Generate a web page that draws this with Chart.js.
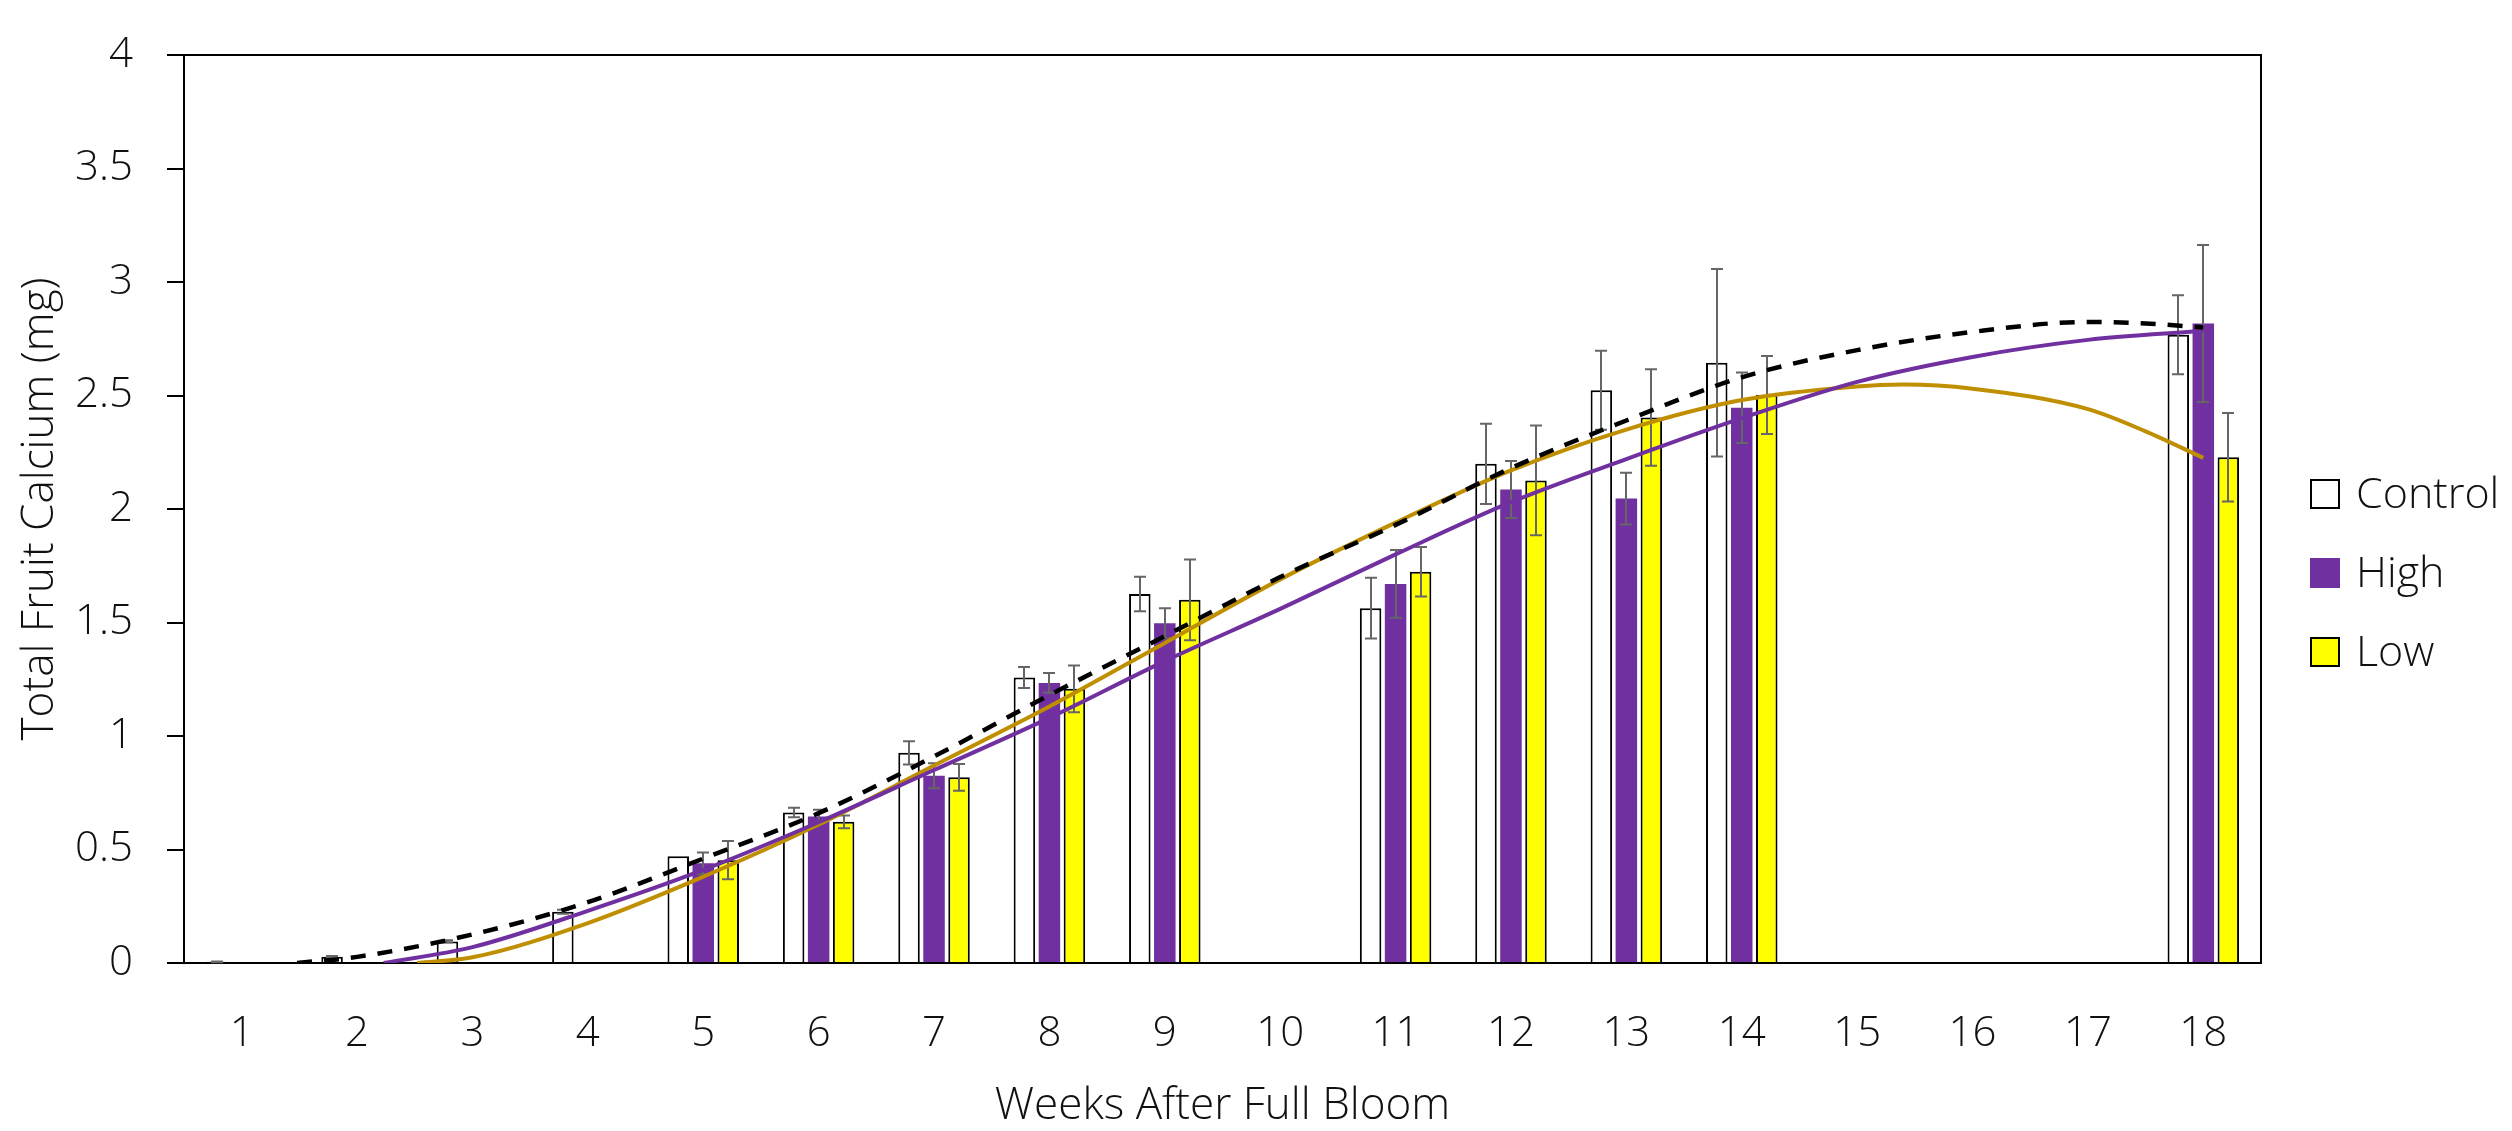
<!DOCTYPE html>
<html>
<head>
<meta charset="utf-8">
<title>Total Fruit Calcium</title>
<script src="https://cdn.jsdelivr.net/npm/chart.js@4.4.1/dist/chart.umd.min.js"></script>
<style>
  html, body { margin: 0; padding: 0; background: #ffffff; }
  #wrap { width: 2512px; height: 1131px; }
</style>
</head>
<body>
<div id="wrap"><canvas id="calcium" width="2512" height="1131"></canvas></div>
<script>
// Weeks after full bloom (sampling weeks and their tick labels)
const weekNums = [1, 2, 3, 4, 5, 6, 7, 8, 9, 10, 11, 12, 13, 14, 15, 16, 17, 18];
const weeks = ['1','2','3','4','5','6','7','8','9','10','11','12','13','14','15','16','17','18'];

// Mean total fruit calcium (mg) per treatment; null = not sampled
const control    = [0.005, 0.027, 0.095, 0.226, 0.470, 0.663, 0.926, 1.258, 1.626, null, 1.563, 2.199, 2.523, 2.644, null, null, null, 2.768];
const controlErr = [0.002, 0.004, 0.005, 0.009, 0,     0.021, 0.051, 0.046, 0.076, null, 0.134, 0.177, 0.174, 0.413, null, null, null, 0.174];
const high       = [null, null, null, null, 0.439, 0.645, 0.825, 1.234, 1.497, null, 1.670, 2.086, 2.046, 2.446, null, null, null, 2.817];
const highErr    = [null, null, null, null, 0.048, 0.030, 0.055, 0.043, 0.066, null, 0.149, 0.126, 0.114, 0.155, null, null, null, 0.346];
const low        = [null, null, null, null, 0.453, 0.622, 0.818, 1.208, 1.600, null, 1.724, 2.126, 2.403, 2.502, null, null, null, 2.228];
const lowErr     = [null, null, null, null, 0.084, 0.028, 0.059, 0.103, 0.178, null, 0.109, 0.242, 0.213, 0.172, null, null, null, 0.195];

// Polynomial trend curves, sampled as (week, mg)
const controlTrendWeeks = [1.48, 2, 3, 4, 5, 6, 7, 8, 9, 10, 11, 12, 13, 14, 15, 16, 17, 17.5, 18];
const controlTrendMg    = [0, 0.027, 0.126, 0.268, 0.46, 0.66, 0.91, 1.18, 1.44, 1.70, 1.93, 2.18, 2.39, 2.58, 2.70, 2.78, 2.824, 2.817, 2.80];
const highTrendWeeks    = [2.23, 3, 4, 5, 6, 7, 8, 9, 10, 11, 12, 13, 14, 15, 16, 17, 18];
const highTrendMg       = [0, 0.07, 0.23, 0.41, 0.62, 0.85, 1.08, 1.33, 1.56, 1.80, 2.03, 2.22, 2.40, 2.56, 2.67, 2.745, 2.785];
const lowTrendWeeks     = [2.52, 3, 4, 5, 6, 7, 8, 9, 10, 11, 12, 13, 14, 15, 15.4, 16, 17, 17.5, 18];
const lowTrendMg        = [0, 0.025, 0.176, 0.38, 0.61, 0.87, 1.13, 1.41, 1.69, 1.94, 2.17, 2.35, 2.48, 2.54, 2.548, 2.53, 2.44, 2.342, 2.225];

const toPoints = (xs, ys) => xs.map((x, i) => ({ x: x, y: ys[i] }));

const FONT = '"Open Sans", "Noto Sans", sans-serif';
const INK = '#111111';

// Vertical error bars drawn right after each bar dataset
const errorBars = {
  id: 'errorBars',
  afterDatasetDraw(chart, args) {
    const ds = chart.data.datasets[args.index];
    if (!ds.errors) return;
    const yScale = chart.scales.y;
    const ctx = chart.ctx;
    ctx.save();
    ctx.strokeStyle = '#666666';
    ctx.lineWidth = 2;
    args.meta.data.forEach((bar, i) => {
      const v = ds.data[i] ? ds.data[i].y : null;
      const e = ds.errors[i];
      if (v == null || !e) return;
      const yt = yScale.getPixelForValue(v + e);
      const yb = yScale.getPixelForValue(Math.max(0, v - e));
      const x = Math.round(bar.x);
      ctx.beginPath();
      ctx.moveTo(x, yt); ctx.lineTo(x, yb);
      ctx.moveTo(x - 6, yt); ctx.lineTo(x + 6, yt);
      ctx.moveTo(x - 6, yb); ctx.lineTo(x + 6, yb);
      ctx.stroke();
    });
    ctx.restore();
  }
};

// Top and right edges of the plot box
const plotFrame = {
  id: 'plotFrame',
  afterDatasetsDraw(chart) {
    const { ctx, chartArea: a } = chart;
    ctx.save();
    ctx.strokeStyle = '#000000';
    ctx.lineWidth = 2;
    ctx.beginPath();
    ctx.moveTo(a.left, a.top);
    ctx.lineTo(a.right, a.top);
    ctx.lineTo(a.right, a.bottom);
    ctx.stroke();
    ctx.restore();
  }
};

// Treatment key to the right of the plot
const sideLegend = {
  id: 'sideLegend',
  afterDraw(chart, args, opts) {
    const ctx = chart.ctx;
    const items = chart.data.datasets.filter(d => d.type !== 'line');
    ctx.save();
    ctx.font = '300 ' + opts.fontSize + 'px ' + FONT;
    ctx.textBaseline = 'middle';
    ctx.textAlign = 'left';
    items.forEach((d, i) => {
      const cy = opts.top + i * opts.step;
      const bx = opts.left, by = cy - opts.box / 2;
      ctx.fillStyle = d.backgroundColor;
      ctx.fillRect(bx, by, opts.box, opts.box);
      if (d.borderWidth) {
        ctx.strokeStyle = d.borderColor;
        ctx.lineWidth = 2;
        ctx.strokeRect(bx + 1, by + 1, opts.box - 2, opts.box - 2);
      }
      ctx.fillStyle = INK;
      ctx.fillText(d.label, bx + opts.box + 16, cy + 2);
    });
    ctx.restore();
  }
};

const barCommon = { type: 'bar', order: 1, categoryPercentage: 0.65, barPercentage: 0.86, borderSkipped: 'start' };
const lineCommon = { type: 'line', order: 0, pointRadius: 0, fill: false, cubicInterpolationMode: 'monotone' };

new Chart(document.getElementById('calcium'), {
  type: 'bar',
  data: {
    datasets: [
      Object.assign({}, barCommon, { label: 'Control', data: toPoints(weekNums, control), errors: controlErr, backgroundColor: '#ffffff', borderColor: '#000000', borderWidth: 2 }),
      Object.assign({}, barCommon, { label: 'High', data: toPoints(weekNums, high), errors: highErr, backgroundColor: '#7030A0', borderWidth: 0 }),
      Object.assign({}, barCommon, { label: 'Low', data: toPoints(weekNums, low), errors: lowErr, backgroundColor: '#FFFF00', borderColor: '#000000', borderWidth: 2 }),
      Object.assign({}, lineCommon, { label: 'Control trend', data: toPoints(controlTrendWeeks, controlTrendMg), borderColor: '#000000', borderWidth: 4.5, borderDash: [15, 12] }),
      Object.assign({}, lineCommon, { label: 'High trend', data: toPoints(highTrendWeeks, highTrendMg), borderColor: '#7030A0', borderWidth: 4 }),
      Object.assign({}, lineCommon, { label: 'Low trend', data: toPoints(lowTrendWeeks, lowTrendMg), borderColor: '#BF8F00', borderWidth: 4 })
    ]
  },
  options: {
    responsive: false,
    animation: false,
    devicePixelRatio: 1,
    layout: { padding: { left: 0, top: 24, right: 251, bottom: 0 } },
    plugins: {
      legend: { display: false },
      tooltip: { enabled: false },
      sideLegend: { left: 2310, top: 494, step: 79, box: 30, fontSize: 43 }
    },
    scales: {
      x: {
        type: 'linear',
        offset: false,
        min: 0.5,
        max: 18.5,
        grid: { display: false, drawTicks: false, offset: false },
        border: { display: true, color: '#000000', width: 2 },
        afterBuildTicks(scale) { scale.ticks = weekNums.map(v => ({ value: v })); },
        ticks: {
          color: INK,
          padding: 50,
          maxRotation: 0,
          autoSkip: false,
          font: { family: FONT, size: 42, weight: '300', lineHeight: 1 },
          callback: (value, index) => weeks[index]
        },
        title: { display: true, text: 'Weeks After Full Bloom', color: INK, padding: { top: 0, bottom: 0 }, font: { family: FONT, size: 44, weight: '300', lineHeight: 1.1 } },
        afterFit(scale) { scale.height = 168; }
      },
      y: {
        min: 0,
        max: 4,
        grid: { display: true, drawOnChartArea: false, drawTicks: true, tickLength: 17, color: '#000000', lineWidth: 2 },
        border: { display: true, color: '#000000', width: 2 },
        ticks: {
          stepSize: 0.5,
          color: INK,
          padding: 34,
          font: { family: FONT, size: 42, weight: '300', lineHeight: 1 },
          callback: (value) => String(value)
        },
        title: { display: true, text: 'Total Fruit Calcium (mg)', color: INK, padding: { top: 14, bottom: 0 }, font: { family: FONT, size: 44, weight: '300', lineHeight: 1.2 } },
        afterFit(scale) { scale.width = 184; }
      }
    }
  },
  plugins: [errorBars, plotFrame, sideLegend]
});
</script>
</body>
</html>
